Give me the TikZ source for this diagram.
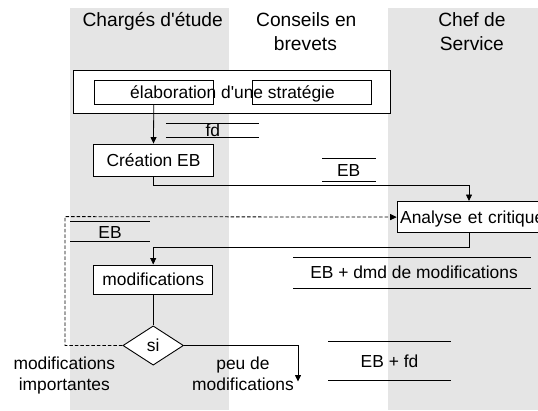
\documentclass[tikz,border=0pt]{standalone}
\usepackage{fontspec}
\setmainfont{Liberation Sans}[Ligatures=TeXOff]
\usetikzlibrary{arrows.meta,shapes.geometric,calc}
\begin{document}
\begin{tikzpicture}[x=1pt,y=-1pt,
  every node/.style={font=\fontsize{17.4}{20.5}\selectfont, inner sep=0pt},
  lane/.style={fill=black!10, draw=none},
  box/.style={draw, fill=white, line width=0.9pt, text height=12.5pt, text depth=0pt},
  lbl/.style={text height=12.5pt, text depth=0pt},
  basetxt/.style={anchor=base},
  hdr/.style={font=\fontsize{19.2}{24}\selectfont, anchor=base},
  tline/.style={line width=0.8pt},
  conn/.style={line width=0.8pt},
  arr/.style={conn, -{Triangle[length=6.5pt,width=6pt]}},
  dashconn/.style={conn, dash pattern=on 3.5pt off 2pt, -{Triangle[length=6.5pt,width=6pt]}}
]
\useasboundingbox (0,0) rectangle (538,410);
\clip (0,0) rectangle (538,410);
% lanes
\fill[lane] (70.3,8) rectangle (228.9,410);
\fill[lane] (387.8,8) rectangle (538,410);
% headers
\node[hdr] (h1) at (152.7,26.7) {Chargés d'étude};
\node[hdr] (h2a) at (306.3,26.7) {Conseils en};
\node[hdr] (h2b) at (305.4,50.7) {brevets};
\node[hdr] (h3a) at (471.9,26.7) {Chef de};
\node[hdr] (h3b) at (471.9,50.7) {Service};
% strategy block
\node[draw, fill=white, line width=0.9pt, minimum width=316.7pt, minimum height=42.6pt] (strat) at (232.15,92) {};
\node[lbl] (stext) at (232.5,92) {élaboration d'une stratégie};
\node[draw, line width=0.9pt, minimum width=119.5pt, minimum height=23.3pt] (sb1) at (153.75,92.35) {};
\node[draw, line width=0.9pt, minimum width=118.8pt, minimum height=23.3pt] (sb2) at (312.3,92.35) {};
% boxes
\node[box, minimum width=119.5pt, minimum height=32pt] (creation) at (153.5,160) {Création EB};
\node[box, anchor=north west, minimum height=31.3pt, text width=160pt, align=left, inner xsep=3pt] (analyse) at (396.7,201) {Analyse et critique};
\node[box, minimum width=119.4pt, minimum height=29.3pt] (modif) at (153.2,279.6) {modifications};
\node[draw, fill=white, diamond, aspect=1.5, minimum width=60.6pt, minimum height=39.3pt, line width=0.9pt, lbl] (si) at (153.2,345.5) {si};
% data labels
\draw[tline] (165.8,123.3) -- (259.1,123.3) (165.8,137.3) -- (259.1,137.3);
\node[lbl] (fd) at (212.8,130.5) {fd};
\draw[tline] (322.3,158.3) -- (376,158.3) (322.3,181.7) -- (376,181.7);
\node[lbl] (eb1) at (348.7,170.3) {EB};
\draw[tline] (70.3,221.7) -- (150,221.7) (70.3,241.7) -- (150,241.7);
\node[lbl] (eb2) at (110,232.3) {EB};
\draw[tline] (293.3,257.3) -- (531,257.3) (293.3,288) -- (531,288);
\node[lbl] (ebdmd) at (414,272.5) {EB + dmd de modifications};
\draw[tline] (328.3,341.7) -- (450.7,341.7) (328.3,380.7) -- (450.7,380.7);
\node[lbl] (ebfd) at (389.5,361.5) {EB + fd};
% branch labels
\node[basetxt] (mi1) at (64.3,369.5) {modifications};
\node[basetxt] (mi2) at (64.3,390) {importantes};
\node[basetxt] (pm1) at (243,369.5) {peu de};
\node[basetxt] (pm2) at (243,390) {modifications};
% connectors
\coordinate (c1) at (469,185);
\coordinate (c2) at (153.2,247.5);
\coordinate (d1) at (65,216.6);
\coordinate (e1) at (298,381.5);
\draw[arr] (sb1.south) -- (creation.north);
\draw[arr] (creation.south) |- (c1) -- (c1 |- analyse.north);
\draw[arr] (c1 |- analyse.south) |- (c2) -- (modif.north);
\draw[conn] (modif.south) -- (si.north);
\draw[dashconn] (si.west) -| (d1) -- (analyse.west);
\draw[arr] (si.east) -| (e1);
\end{tikzpicture}
\end{document}
